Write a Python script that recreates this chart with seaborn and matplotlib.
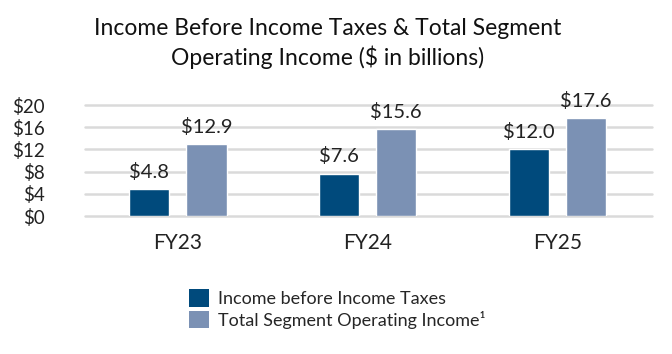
import matplotlib
matplotlib.use("Agg")
import matplotlib.pyplot as plt
import seaborn as sns
import pandas as pd
from matplotlib.patches import Patch

categories = ["FY23", "FY24", "FY25"]
series_names = ["Income before Income Taxes", "Total Segment Operating Income"]
income_before_taxes = [4.8, 7.6, 12.0]
segment_operating_income = [12.9, 15.6, 17.6]
y_ticks = [0, 4, 8, 12, 16, 20]
legend_labels = ["Income before Income Taxes", "Total Segment Operating Income\u00b9"]
colors = ["#004A7C", "#7B91B4"]

df = pd.DataFrame({
    "Year": categories * 2,
    "Series": [series_names[0]] * 3 + [series_names[1]] * 3,
    "Value": income_before_taxes + segment_operating_income,
})

sns.set_theme(style="white")
plt.rcParams["font.family"] = ["Lato", "DejaVu Sans"]

fig = plt.figure(figsize=(6.72, 3.54), dpi=100)
ax = fig.add_axes([85 / 672, 1 - 216 / 354, (652 - 85) / 672, (216 - 105) / 354])

sns.barplot(data=df, x="Year", y="Value", hue="Series", order=categories,
            hue_order=series_names, palette=colors, width=0.603, gap=0.3,
            saturation=1, legend=False, ax=ax, zorder=3)

ax.set_xlim(-0.49, 2.5)
ax.set_ylim(0, 20)
ax.set_yticks(y_ticks)
ax.set_yticklabels([f"${v}" for v in y_ticks], fontsize=13.5, color="#222222")
ax.tick_params(axis="y", length=0, pad=29)
for lab in ax.get_yticklabels():
    lab.set_horizontalalignment("right")
ax.tick_params(axis="x", length=0, pad=12, labelsize=15, labelcolor="#222222")
ax.set_xlabel("")
ax.set_ylabel("")
for s in ax.spines.values():
    s.set_visible(False)
for v in y_ticks:
    ax.axhline(v, color="#DADADA", lw=1.8, zorder=1, clip_on=False)

for cont in ax.containers:
    ax.bar_label(cont, labels=[f"${b.get_height():.1f}" for b in cont],
                 padding=6, fontsize=14.5, color="#222222")

fig.text(0.488, 0.95, "Income Before Income Taxes & Total Segment\nOperating Income ($ in billions)",
         ha="center", va="top", fontsize=16.5, color="#111111", linespacing=1.35)

handles = [Patch(facecolor=c, edgecolor="none") for c in colors]
fig.legend(handles, legend_labels, loc="upper left", bbox_to_anchor=(182 / 672, 1 - 282 / 354),
           frameon=False, fontsize=13, handlelength=1.1, handleheight=1.1,
           handletextpad=0.5, labelspacing=0.2, borderaxespad=0)

fig.savefig("out.png", dpi=100, facecolor="white")
